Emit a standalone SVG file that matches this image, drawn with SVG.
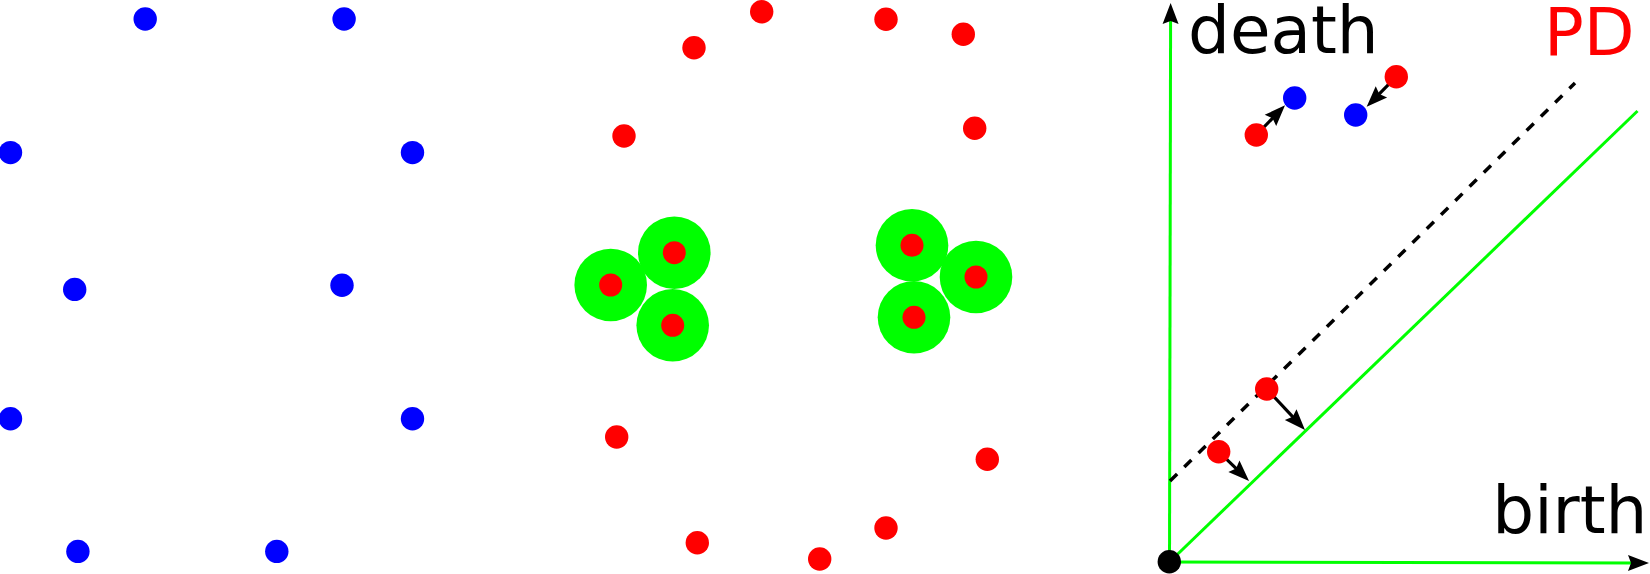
<svg xmlns="http://www.w3.org/2000/svg" width="1650" height="574" viewBox="0 0 1650 574">
<style>
.b{fill:#0000ff}
.r{fill:#ff0000}
.g{fill:#00ff00}
.gl{stroke:#00ff00;stroke-width:3;fill:none}
.ar{stroke:#000;stroke-width:3.2;fill:none;marker-end:url(#ah)}
.dash{stroke:#000;stroke-width:3.5;fill:none;stroke-dasharray:10 10}
.t{font-family:"DejaVu Sans",sans-serif;font-size:66px}
</style>
<defs>
<marker id="ah" viewBox="0 -9 22 18" markerWidth="22" markerHeight="18" refX="9" refY="0" orient="auto" markerUnits="userSpaceOnUse" overflow="visible">
<path d="M21,0 L0,-8 L3,0 L0,8 Z" fill="#000"/>
</marker>
</defs>
<rect width="1650" height="574" fill="#fff"/>
<g id="point-cloud-blue">
<circle class="b" cx="145.2" cy="19" r="11.7"/>
<circle class="b" cx="344.1" cy="19" r="11.7"/>
<circle class="b" cx="10.5" cy="152.6" r="11.7"/>
<circle class="b" cx="412.5" cy="152.6" r="11.7"/>
<circle class="b" cx="74.7" cy="289.4" r="11.7"/>
<circle class="b" cx="342" cy="285.2" r="11.7"/>
<circle class="b" cx="10.5" cy="418.8" r="11.7"/>
<circle class="b" cx="412.5" cy="418.8" r="11.7"/>
<circle class="b" cx="77.9" cy="551.4" r="11.7"/>
<circle class="b" cx="276.8" cy="551.4" r="11.7"/>
</g>
<g id="point-cloud-red">
<circle class="r" cx="761.7" cy="11.7" r="11.7"/>
<circle class="r" cx="694" cy="47.7" r="11.7"/>
<circle class="r" cx="886" cy="19.3" r="11.7"/>
<circle class="r" cx="963.3" cy="34.3" r="11.7"/>
<circle class="r" cx="624" cy="136" r="11.7"/>
<circle class="r" cx="974.7" cy="128.3" r="11.7"/>
<circle class="r" cx="616.7" cy="437" r="11.7"/>
<circle class="r" cx="987.3" cy="459.3" r="11.7"/>
<circle class="r" cx="697.3" cy="542.7" r="11.7"/>
<circle class="r" cx="819.7" cy="559" r="11.7"/>
<circle class="r" cx="886" cy="528" r="11.7"/>
</g>
<g id="balls-left">
<circle class="g" cx="610.7" cy="285" r="36.3"/>
<circle class="g" cx="674.3" cy="252.7" r="36.3"/>
<circle class="g" cx="672.7" cy="325.3" r="36.3"/>
<circle class="r" cx="610.7" cy="285" r="11.5"/>
<circle class="r" cx="674.3" cy="252.7" r="11.5"/>
<circle class="r" cx="672.7" cy="325.3" r="11.5"/>
</g>
<g id="balls-right">
<circle class="g" cx="912" cy="245.3" r="36.3"/>
<circle class="g" cx="976" cy="277" r="36.3"/>
<circle class="g" cx="914" cy="317.3" r="36.3"/>
<circle class="r" cx="912" cy="245.3" r="11.5"/>
<circle class="r" cx="976" cy="277" r="11.5"/>
<circle class="r" cx="914" cy="317.3" r="11.5"/>
</g>
<g id="connectors">
<line class="gl" x1="1169.5" y1="562" x2="1170.6" y2="15" marker-end="url(#ah)"/>
<line class="gl" x1="1169.5" y1="562" x2="1637" y2="563" marker-end="url(#ah)"/>
<line class="gl" x1="1169.5" y1="562" x2="1637.5" y2="111"/>
<line class="dash" x1="1170" y1="481" x2="1575" y2="83"/>
<line class="ar" x1="1256.3" y1="135" x2="1276.7" y2="113.9"/>
<line class="ar" x1="1396.3" y1="76.7" x2="1375.1" y2="98.2"/>
<line class="ar" x1="1266.7" y1="389" x2="1296.8" y2="421.2"/>
<line class="ar" x1="1218.7" y1="451.7" x2="1240.4" y2="472.6"/>
</g>
<g id="pd-points">
<circle class="r" cx="1256.3" cy="135" r="11.7"/>
<circle class="b" cx="1294.7" cy="98" r="11.7"/>
<circle class="b" cx="1355.7" cy="115" r="11.7"/>
<circle class="r" cx="1396.3" cy="76.7" r="11.7"/>
<circle class="r" cx="1266.7" cy="389" r="11.7"/>
<circle class="r" cx="1218.7" cy="451.7" r="11.7"/>
<circle cx="1169.3" cy="561.7" r="11.7" fill="#000"/>
</g>
<g id="labels">
<text class="t" x="1188" y="52.7" fill="#000">death</text>
<text class="t" x="1544" y="55" fill="#ff0000">PD</text>
<text class="t" x="1492.3" y="533.3" fill="#000">birth</text>
</g>
</svg>
